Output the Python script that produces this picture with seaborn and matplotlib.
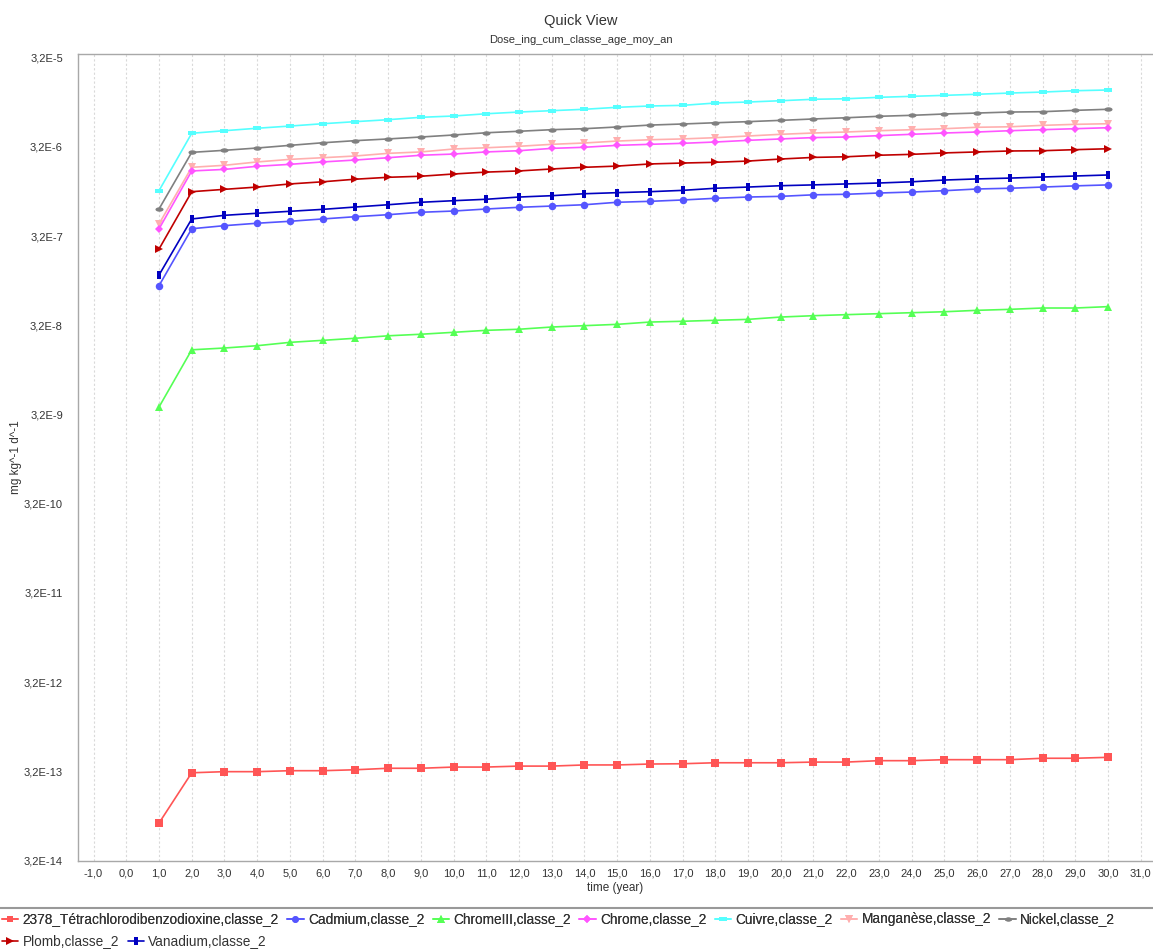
import numpy as np
import matplotlib
matplotlib.use("Agg")
import matplotlib.pyplot as plt
from matplotlib.path import Path
from matplotlib.lines import Line2D
from matplotlib.ticker import FixedLocator, NullLocator
import seaborn as sns

# ---- data -------------------------------------------------------------
years = list(range(1, 31))

dioxine = [8.41e-14, 3.08e-13, 3.17e-13, 3.17e-13, 3.25e-13, 3.25e-13, 3.33e-13, 3.46e-13,
           3.46e-13, 3.57e-13, 3.57e-13, 3.66e-13, 3.66e-13, 3.77e-13, 3.77e-13, 3.86e-13,
           3.89e-13, 3.99e-13, 3.99e-13, 3.99e-13, 4.06e-13, 4.06e-13, 4.21e-13, 4.21e-13,
           4.32e-13, 4.32e-13, 4.32e-13, 4.48e-13, 4.48e-13, 4.59e-13]
cadmium = [8.89e-8, 3.87e-7, 4.19e-7, 4.46e-7, 4.69e-7, 4.98e-7, 5.28e-7, 5.56e-7,
           5.92e-7, 6.11e-7, 6.44e-7, 6.73e-7, 6.95e-7, 7.19e-7, 7.66e-7, 7.85e-7,
           8.13e-7, 8.49e-7, 8.77e-7, 8.93e-7, 9.29e-7, 9.42e-7, 9.73e-7, 9.98e-7,
           1.033e-6, 1.08e-6, 1.10e-6, 1.135e-6, 1.17e-6, 1.20e-6]
chrome3 = [3.88e-9, 1.70e-8, 1.78e-8, 1.89e-8, 2.06e-8, 2.17e-8, 2.29e-8, 2.44e-8,
           2.54e-8, 2.67e-8, 2.81e-8, 2.89e-8, 3.06e-8, 3.17e-8, 3.28e-8, 3.48e-8,
           3.55e-8, 3.64e-8, 3.73e-8, 3.96e-8, 4.10e-8, 4.21e-8, 4.32e-8, 4.43e-8,
           4.54e-8, 4.71e-8, 4.83e-8, 5.00e-8, 5.00e-8, 5.18e-8]
chrome = [3.85e-7, 1.72e-6, 1.79e-6, 1.94e-6, 2.04e-6, 2.17e-6, 2.28e-6, 2.42e-6,
          2.58e-6, 2.66e-6, 2.81e-6, 2.90e-6, 3.08e-6, 3.17e-6, 3.33e-6, 3.42e-6,
          3.51e-6, 3.63e-6, 3.79e-6, 3.93e-6, 4.07e-6, 4.13e-6, 4.28e-6, 4.43e-6,
          4.58e-6, 4.70e-6, 4.86e-6, 4.99e-6, 5.12e-6, 5.25e-6]
cuivre = [1.033e-6, 4.55e-6, 4.86e-6, 5.18e-6, 5.48e-6, 5.82e-6, 6.14e-6, 6.46e-6,
          6.87e-6, 7.10e-6, 7.53e-6, 7.87e-6, 8.15e-6, 8.45e-6, 8.89e-6, 9.20e-6,
          9.35e-6, 9.93e-6, 1.019e-5, 1.054e-5, 1.094e-5, 1.109e-5, 1.151e-5, 1.180e-5,
          1.211e-5, 1.245e-5, 1.285e-5, 1.318e-5, 1.365e-5, 1.390e-5]
manganese = [4.38e-7, 1.89e-6, 1.99e-6, 2.17e-6, 2.32e-6, 2.42e-6, 2.53e-6, 2.71e-6,
             2.81e-6, 3.03e-6, 3.13e-6, 3.25e-6, 3.42e-6, 3.54e-6, 3.72e-6, 3.85e-6,
             3.93e-6, 4.06e-6, 4.24e-6, 4.43e-6, 4.58e-6, 4.70e-6, 4.86e-6, 4.99e-6,
             5.12e-6, 5.31e-6, 5.38e-6, 5.58e-6, 5.73e-6, 5.82e-6]
nickel = [6.44e-7, 2.78e-6, 2.93e-6, 3.11e-6, 3.33e-6, 3.56e-6, 3.76e-6, 3.93e-6,
          4.13e-6, 4.35e-6, 4.61e-6, 4.79e-6, 4.99e-6, 5.12e-6, 5.35e-6, 5.62e-6,
          5.78e-6, 5.97e-6, 6.14e-6, 6.35e-6, 6.58e-6, 6.79e-6, 7.05e-6, 7.23e-6,
          7.48e-6, 7.67e-6, 7.87e-6, 7.94e-6, 8.22e-6, 8.45e-6]
plomb = [2.29e-7, 1.007e-6, 1.07e-6, 1.135e-6, 1.23e-6, 1.30e-6, 1.39e-6, 1.46e-6,
         1.50e-6, 1.59e-6, 1.67e-6, 1.72e-6, 1.81e-6, 1.89e-6, 1.95e-6, 2.06e-6,
         2.11e-6, 2.15e-6, 2.22e-6, 2.34e-6, 2.44e-6, 2.48e-6, 2.58e-6, 2.64e-6,
         2.74e-6, 2.81e-6, 2.88e-6, 2.90e-6, 2.98e-6, 3.05e-6]
vanadium = [1.17e-7, 4.98e-7, 5.47e-7, 5.77e-7, 6.07e-7, 6.38e-7, 6.78e-7, 7.19e-7,
            7.66e-7, 7.98e-7, 8.28e-7, 8.77e-7, 9.08e-7, 9.55e-7, 9.82e-7, 1.007e-6,
            1.042e-6, 1.10e-6, 1.135e-6, 1.175e-6, 1.20e-6, 1.23e-6, 1.26e-6, 1.30e-6,
            1.36e-6, 1.40e-6, 1.43e-6, 1.47e-6, 1.51e-6, 1.55e-6]

series_labels = ["2378_Tétrachlorodibenzodioxine,classe_2", "Cadmium,classe_2",
                 "ChromeIII,classe_2", "Chrome,classe_2", "Cuivre,classe_2",
                 "Manganèse,classe_2", "Nickel,classe_2", "Plomb,classe_2",
                 "Vanadium,classe_2"]
series_values = [dioxine, cadmium, chrome3, chrome, cuivre, manganese, nickel, plomb, vanadium]

y_tick_values = [3.2e-14, 3.2e-13, 3.2e-12, 3.2e-11, 3.2e-10, 3.2e-9, 3.2e-8, 3.2e-7, 3.2e-6, 3.2e-5]
y_tick_labels = ["3,2E-14", "3,2E-13", "3,2E-12", "3,2E-11", "3,2E-10", "3,2E-9",
                 "3,2E-8", "3,2E-7", "3,2E-6", "3,2E-5"]
x_tick_values = list(range(-1, 32))
x_tick_labels = [f"{v},0" for v in x_tick_values]

# ---- styling ----------------------------------------------------------
colors = ["#FF5555", "#5555FF", "#55FF55", "#FF55FF", "#55FFFF",
          "#FFAFAF", "#808080", "#C00000", "#0000C0"]


def rect_path(w, h):
    return Path([(-w / 2, -h / 2), (w / 2, -h / 2), (w / 2, h / 2), (-w / 2, h / 2), (-w / 2, -h / 2)],
                [Path.MOVETO, Path.LINETO, Path.LINETO, Path.LINETO, Path.CLOSEPOLY])


_t = np.linspace(0, 2 * np.pi, 41)
ellipse_path = Path(np.column_stack([np.cos(_t), 0.55 * np.sin(_t)]), closed=True)

markers = ["s", "o", "^", "D", rect_path(2.0, 1.0), "v", ellipse_path, ">", rect_path(1.0, 2.0)]
marker_sizes = [5.2, 5.4, 5.8, 4.2, 5.8, 5.8, 5.8, 5.8, 6.0]

sns.set_style("white")
plt.rcParams["font.family"] = ["Liberation Sans", "DejaVu Sans"]
text_color = "#333333"

W, H = 1153, 951
fig = plt.figure(figsize=(W / 100, H / 100), dpi=100)
left_px, right_px, top_px, bottom_px = 77.5, 1153, 54, 860.5
ax = fig.add_axes([left_px / W, 1 - bottom_px / H, (right_px - left_px) / W, (bottom_px - top_px) / H])
ax.set_facecolor("white")

ax.set_yscale("log")

# JFreeChart paints the first series last, so draw in reverse order
n = len(series_values)
for i in reversed(range(n)):
    sns.lineplot(x=years, y=series_values[i], ax=ax, color=colors[i], marker=markers[i],
                 markersize=marker_sizes[i], markeredgewidth=0, linewidth=1.2,
                 zorder=3 + (n - i), legend=False)

# axes ranges and ticks
px_per_unit = (1108 - 159) / 29.0
x_left = 1 - (159 - left_px) / px_per_unit
x_right = 1 + (right_px - 159) / px_per_unit
ax.set_xlim(x_left, x_right)
ax.set_ylim(3.2e-14, 3.2e-14 * 10 ** ((bottom_px - top_px) / 89.2))

ax.xaxis.set_major_locator(FixedLocator(x_tick_values))
ax.set_xticklabels(x_tick_labels)
ax.yaxis.set_major_locator(FixedLocator(y_tick_values))
ax.yaxis.set_minor_locator(NullLocator())
ax.set_yticklabels(y_tick_labels)
ax.tick_params(axis="both", which="major", direction="out", length=2, width=0.8,
               color="#999999", labelsize=8, labelcolor=text_color)
ax.tick_params(axis="y", pad=8.5)
ax.tick_params(axis="x", pad=3.5)

ax.xaxis.grid(True, linestyle=(0, (2, 2)), color="#d9d9d9", linewidth=0.8)
ax.yaxis.grid(False)
for side, sp in ax.spines.items():
    sp.set_color("#a8a8a8")
    sp.set_linewidth(1.0)
ax.spines["right"].set_visible(False)

ax.set_xlabel("")
ax.set_ylabel("")

# titles and axis labels
fig.text(581 / W, 1 - 21 / H, "Quick View", ha="center", va="center", fontsize=10.5, color=text_color)
fig.text(581 / W, 1 - 40 / H, "Dose_ing_cum_classe_age_moy_an", ha="center", va="center",
         fontsize=8, color=text_color)
fig.text(615 / W, 1 - 888 / H, "time (year)", ha="center", va="center", fontsize=8.5, color=text_color)
fig.text(16 / W, 1 - 457 / H, "mg kg^-1 d^-1", ha="center", va="center", rotation=90,
         fontsize=8.5, color=text_color)

# legend separator
fig.add_artist(Line2D([0, 1], [1 - 908 / H, 1 - 908 / H], transform=fig.transFigure,
                      color="#999999", linewidth=1.5))

handles = [Line2D([], [], color=colors[i], marker=markers[i], markersize=marker_sizes[i] * 0.9,
                  markeredgewidth=0, linewidth=1.2) for i in range(n)]

leg_kw = dict(frameon=False, handlelength=1.2, handletextpad=0.32, columnspacing=0.62,
              borderpad=0, borderaxespad=0, fontsize=9.8, labelcolor=text_color, loc="upper left")
leg1 = fig.legend(handles[:7], series_labels[:7], ncol=7,
                  bbox_to_anchor=(2 / W, 1 - 912.5 / H), **leg_kw)
fig.add_artist(leg1)
leg2 = fig.legend(handles[7:], series_labels[7:], ncol=2,
                  bbox_to_anchor=(2 / W, 1 - 934.5 / H), **leg_kw)

fig.savefig("out.png", dpi=100)
